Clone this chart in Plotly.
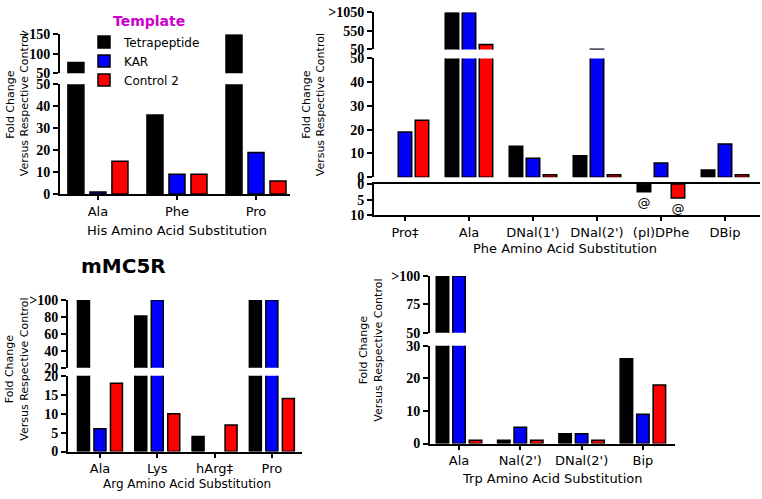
import plotly.graph_objects as go

W, H = 762, 499
# measured rendering correction (picture y = 5.5 + 0.972 * layout y)
def xd(px): return px / W
def yd(py): return 1 - ((py - 5.5) / 0.972) / H

series_names = ["Tetrapeptide", "KAR", "Control 2"]
series_colors = ["#000000", "#0000FF", "#FF0000"]

# Panel 1: His substitutions
his_cats = ["Ala", "Phe", "Pro"]
his_tetra = [78, 36, 150]
his_kar = [1, 9, 19]
his_ctrl = [15, 9, 6]

# Panel 2: Phe substitutions
phe_cats = ["Pro‡", "Ala", "DNal(1')", "DNal(2')", "(pI)DPhe", "DBip"]
phe_tetra = [None, 1050, 13, 9, -2.5, 3]
phe_kar = [19, 1050, 8, 52, 6, 14]
phe_ctrl = [24, 180, 1, 1, -4.5, 1]

# Panel 3: Arg substitutions
arg_cats = ["Ala", "Lys", "hArg‡", "Pro"]
arg_tetra = [100, 81, 4, 100]
arg_kar = [6, 100, None, 100]
arg_ctrl = [18, 10, 7, 14]

# Panel 4: Trp substitutions
trp_cats = ["Ala", "Nal(2')", "DNal(2')", "Bip"]
trp_tetra = [100, 1, 3, 26]
trp_kar = [100, 5, 3, 9]
trp_ctrl = [1, 1, 1, 18]

fig = go.Figure()

TXT = "DejaVu Sans"
NUM = "Liberation Serif"

def add_bars(cats, series, xa, segs, S, P, Wd, legend=False, neg_ya=None):
    """segs: list of (yaxis id, lower bound of that segment)"""
    w = Wd / S
    for i, (vals, name, col) in enumerate(zip(series, series_names, series_colors)):
        off = (i - 1) * P / S - w / 2
        for j, (ya, lo) in enumerate(segs):
            seg_vals = [v if (v is not None and v >= 0 and (j == 0 or v > lo)) else None
                        for v in vals]
            fig.add_trace(go.Bar(
                x=cats, y=seg_vals, xaxis=xa, yaxis=ya, name=name,
                marker=dict(color=col, line=dict(color="black", width=1.5)),
                width=w, offset=off, showlegend=(legend and j == 0),
                legendgroup=name, hoverinfo="skip"))
        if neg_ya:
            neg = [v if (v is not None and v < 0) else None for v in vals]
            fig.add_trace(go.Bar(
                x=cats, y=neg, xaxis=xa, yaxis=neg_ya, name=name,
                marker=dict(color=col, line=dict(color="black", width=1.5)),
                width=w, offset=off, showlegend=False, hoverinfo="skip",
                text=["@" if v is not None else "" for v in neg],
                textposition="outside", constraintext="none", cliponaxis=False,
                textfont=dict(family=TXT, size=13, color="black")))

add_bars(his_cats, [his_tetra, his_kar, his_ctrl], "x", [("y", 0), ("y2", 50)], 79, 22, 16, legend=True)
add_bars(phe_cats, [phe_tetra, phe_kar, phe_ctrl], "x2", [("y4", 0), ("y5", 50)], 64, 17, 13.5, neg_ya="y3")
add_bars(arg_cats, [arg_tetra, arg_kar, arg_ctrl], "x3", [("y6", 0), ("y7", 20)], 57.3, 16.5, 12)
add_bars(trp_cats, [trp_tetra, trp_kar, trp_ctrl], "x4", [("y8", 0), ("y9", 50)], 61.3, 16.5, 12.5)

def yax(py_bot, py_top, rng, tv, tt, anchor):
    return dict(showline=True, linecolor="black", linewidth=2, ticks="outside",
                ticklen=5, tickwidth=2, tickcolor="black", showgrid=False,
                zeroline=False, fixedrange=True,
                tickfont=dict(family=NUM, size=14, color="black"),
                domain=[yd(py_bot), yd(py_top)], range=rng, tickvals=tv,
                ticktext=["<b>" + t + "</b>" for t in tt], anchor=anchor)

def xax(px0, px1, rng, anchor, **kw):
    d = dict(showline=True, linecolor="black", linewidth=2, ticks="outside",
             ticklen=4, tickwidth=1.5, tickcolor="black", showgrid=False,
             zeroline=False, fixedrange=True, type="category",
             tickfont=dict(family=TXT, size=13, color="black"),
             domain=[xd(px0), xd(px1)], range=rng, anchor=anchor)
    d.update(kw)
    return d

fig.update_layout(
    width=W, height=H, margin=dict(l=0, r=0, t=0, b=0, pad=0),
    paper_bgcolor="white", plot_bgcolor="white",
    font=dict(family=NUM, color="black"),
    barmode="overlay", showlegend=True,
    legend=dict(x=xd(84), y=yd(26), xanchor="left", yanchor="top",
                bgcolor="rgba(0,0,0,0)", font=dict(family=TXT, size=12, color="black"),
                traceorder="normal", itemclick=False, itemdoubleclick=False),
    # Panel 1
    xaxis=xax(60, 290, [-0.48, 2.43], "y"),
    yaxis=yax(193, 83, [0, 50], [0, 10, 20, 30, 40, 50], ["0", "10", "20", "30", "40", "50"], "x"),
    yaxis2=yax(72, 33, [50, 150], [50, 100, 150], ["50", "100", ">150"], "x"),
    # Panel 2
    xaxis2=xax(374, 760, [-0.484, 5.547], "y3", mirror=True),
    yaxis3=yax(214, 183, [-10, 0], [-10, -5, 0], ["10", "5", "0"], "x2"),
    yaxis4=yax(176, 57, [0, 50], [0, 10, 20, 30, 40, 50], ["0", "10", "20", "30", "40", "50"], "x2"),
    yaxis5=yax(48, 11, [50, 1050], [50, 550, 1050], ["50", "550", ">1050"], "x2"),
    # Panel 3
    xaxis3=xax(68, 302, [-0.558, 3.526], "y6"),
    yaxis6=yax(451, 375, [0, 20], [0, 5, 10, 15, 20], ["0", "5", "10", "15", "20"], "x3"),
    yaxis7=yax(367, 299, [20, 100], [20, 40, 60, 80, 100], ["20", "40", "60", "80", ">100"], "x3"),
    # Panel 4
    xaxis4=xax(430, 675, [-0.473, 3.524], "y8"),
    yaxis8=yax(443, 345, [0, 30], [0, 10, 20, 30], ["0", "10", "20", "30"], "x4"),
    yaxis9=yax(332, 275, [50, 100], [50, 75, 100], ["50", "75", ">100"], "x4"),
)

def ann(text, px, py, size, angle=0, bold=False, color="black"):
    fig.add_annotation(text=("<b>" + text + "</b>") if bold else text,
                       x=xd(px), y=yd(py), xref="paper", yref="paper",
                       showarrow=False, textangle=angle, xanchor="center", yanchor="middle",
                       font=dict(family=TXT, size=size, color=color))

ytitle = "Fold Change<br>Versus Respective Control"
ann(ytitle, 17, 104, 11, angle=-90)
ann(ytitle, 313, 104, 11, angle=-90)
ann(ytitle, 17, 369, 11, angle=-90)
ann(ytitle, 371, 350, 11, angle=-90)

ann("His Amino Acid Substitution", 177, 229, 13)
ann("Phe Amino Acid Substitution", 565, 248, 13)
ann("Arg Amino Acid Substitution", 187, 484, 12)
ann("Trp Amino Acid Substitution", 552, 478, 13)

ann("Template", 149, 20, 14, bold=True, color="#CC00CC")
ann("mMC5R", 123, 265, 20, bold=True)

post = (
    "document.documentElement.style.margin='0';"
    "document.documentElement.style.padding='0';"
    "document.documentElement.style.overflow='hidden';"
    "document.body.style.margin='0';"
    "document.body.style.padding='0';"
    "document.body.style.overflow='hidden';"
)
fig.write_html("out.html", config={"displayModeBar": False}, post_script=post)
